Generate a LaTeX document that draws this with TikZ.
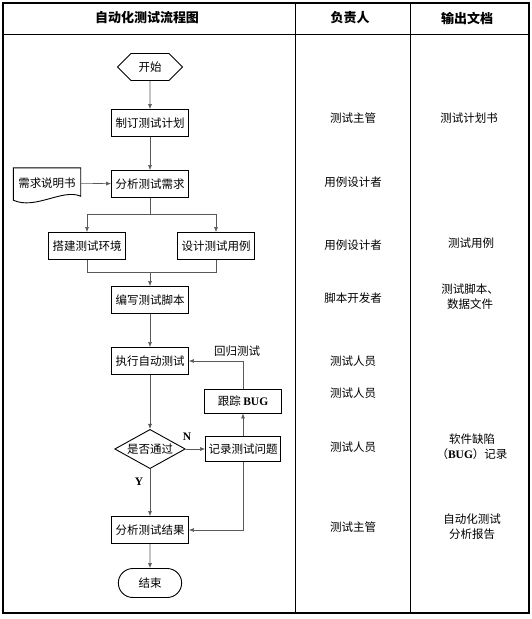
\documentclass[tikz,border=0pt]{standalone}
\usepackage{fontspec}
\setmainfont{Noto Sans CJK SC}
\newfontfamily\latinserif{Liberation Serif}
\usetikzlibrary{shapes.geometric,shapes.misc,shapes.symbols,arrows.meta}

\begin{document}
\begin{tikzpicture}
  [x=1pt, y=-1pt,
   every node/.style={font=\fontsize{11.5}{15}\selectfont},
   box/.style={draw, line width=0.9pt, minimum width=77pt, minimum height=27pt, inner sep=2pt},
   link/.style={draw=black!65, line width=0.6pt},
   arrow/.style={link, -{Latex[length=5pt,width=4pt]}},
   head/.style={font=\fontsize{13}{15}\selectfont\bfseries},
   cell/.style={align=center}]
  \useasboundingbox (0,0) rectangle (532,619);
  % table frame
  \draw[line width=1.2pt] (3,3) rectangle (529,613);
  \draw[line width=0.9pt] (3,34) -- (529,34) (295,3) -- (295,613) (410,3) -- (410,613);
  \node[head] (h1) at (147,18) {自动化测试流程图};
  \node[head] (h2) at (350,18) {负责人};
  \node[head] (h3) at (467,18) {输出文档};
  % flow chart
  \node[draw, line width=0.9pt, signal, signal to=east and west, minimum width=65pt, minimum height=27pt] (start) at (150,67) {开始};
  \node[box] (plan) at (150,123) {制订测试计划};
  \node[box] (analyse) at (150,184) {分析测试需求};
  \node[minimum width=67pt, minimum height=30pt, inner sep=1pt] (reqdoc) at (47,183) {需求说明书};
  \draw[line width=0.9pt] (reqdoc.north west) -- (reqdoc.north east) -- ([yshift=2pt]reqdoc.south east)
    .. controls +(-18,-8) and +(22,10) .. ([yshift=-2pt]reqdoc.south west) -- cycle;
  \node[box] (env) at (87,246) {搭建测试环境};
  \node[box] (design) at (216,246) {设计测试用例};
  \node[box] (script) at (150,300) {编写测试脚本};
  \node[box] (run) at (150,361) {执行自动测试};
  \node[box, minimum height=24pt] (track) at (243,401) {跟踪 {\latinserif\bfseries BUG}};
  \node[draw, line width=0.9pt, diamond, aspect=1.8, inner sep=1pt] (pass) at (150,449) {是否通过};
  \node[box, minimum width=75pt, minimum height=25pt] (record) at (243,449) {记录测试问题};
  \node[box] (result) at (150,530) {分析测试结果};
  \node[draw, line width=0.9pt, rounded rectangle, minimum width=70pt, minimum height=29pt] (finish) at (150,583) {结束};
  \coordinate (split) at (150,214);
  \coordinate (merge) at (150,272);
  % connectors
  \draw[arrow] (start) -- (plan);
  \draw[arrow] (plan) -- (analyse);
  \draw[arrow] (reqdoc) -- (analyse);
  \draw[link] (analyse) -- (split);
  \draw[arrow] (split) -| (env);
  \draw[arrow] (split) -| (design);
  \draw[link] (env) |- (merge);
  \draw[link] (design) |- (merge);
  \draw[arrow] (merge) -- (script);
  \draw[arrow] (script) -- (run);
  \draw[arrow] (run) -- (pass);
  \draw[arrow] (pass) -- (result);
  \draw[arrow] (pass) -- (record);
  \draw[arrow] (record) -- (track);
  \draw[arrow] (track) |- (run);
  \draw[arrow] (record) |- (result);
  \draw[arrow] (result) -- (finish);
  \node (ylabel) at (139,482) {\latinserif\bfseries Y};
  \node (nlabel) at (187,437) {\latinserif\bfseries N};
  \node (regress) at (237,351) {回归测试};
  % owners and documents
  \node (own1) at (353,118) {测试主管};
  \node (doc1) at (469,118) {测试计划书};
  \node (own2) at (353,182) {用例设计者};
  \node (own3) at (353,245) {用例设计者};
  \node (doc3) at (471,243) {测试用例};
  \node (own4) at (353,298) {脚本开发者};
  \node[cell] (doc4) at (470,297) {测试脚本、\\数据文件};
  \node (own5) at (353,361) {测试人员};
  \node (own6) at (353,393) {测试人员};
  \node (own7) at (353,447) {测试人员};
  \node[cell] (doc7) at (472,447) {软件缺陷\\（{\latinserif\bfseries BUG}）记录};
  \node (own8) at (353,527) {测试主管};
  \node[cell] (doc8) at (472,527) {自动化测试\\分析报告};
\end{tikzpicture}
\end{document}
